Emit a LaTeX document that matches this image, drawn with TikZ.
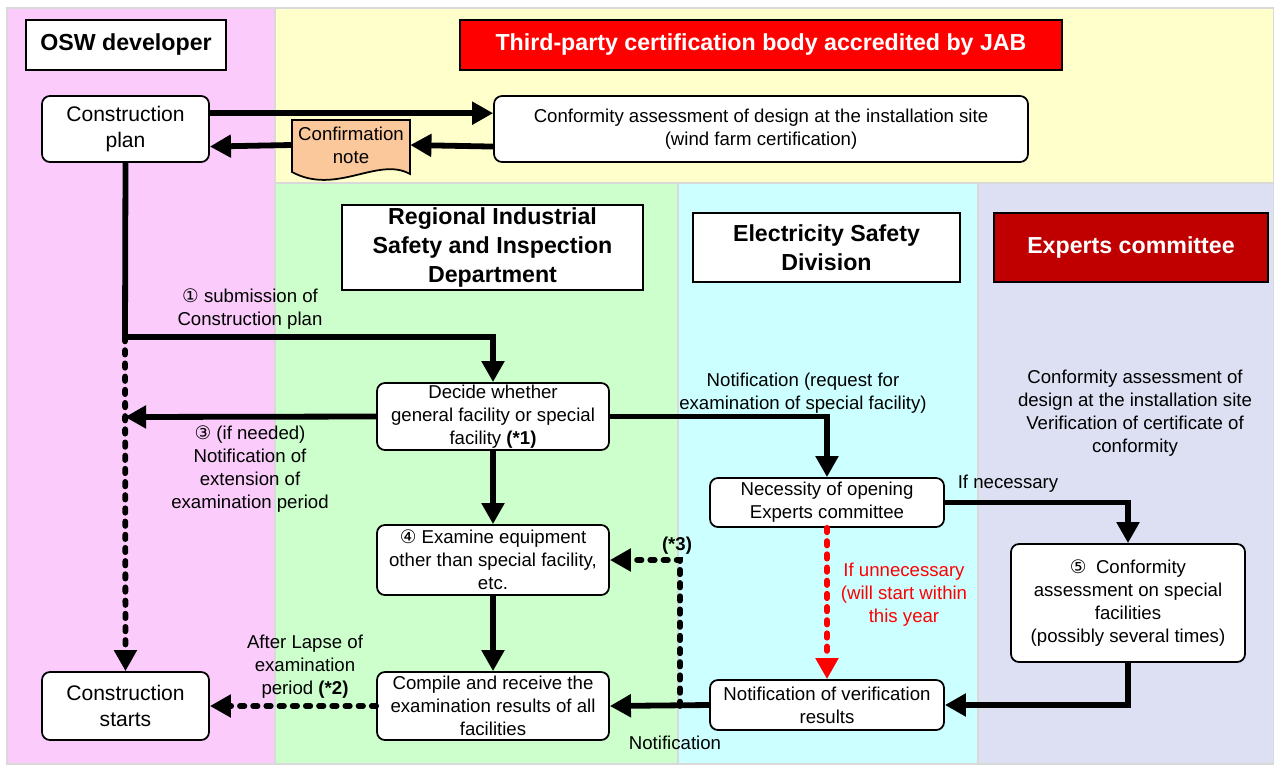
\documentclass[tikz,border=0pt]{standalone}
\usepackage{fontspec}
\setmainfont{Liberation Sans}
\newfontfamily\circfont{DejaVu Sans}
\usetikzlibrary{arrows.meta}

\definecolor{devpink}{RGB}{251,204,251}
\definecolor{jabyellow}{RGB}{255,255,204}
\definecolor{regiongreen}{RGB}{204,255,204}
\definecolor{eleccyan}{RGB}{204,255,255}
\definecolor{expertlav}{RGB}{220,224,242}
\definecolor{notepeach}{RGB}{250,200,155}
\definecolor{jabred}{RGB}{255,0,0}
\definecolor{expertred}{RGB}{192,0,0}

\newcommand{\txtsize}{\fontsize{10.6pt}{13pt}\selectfont}
\newcommand{\bigsize}{\fontsize{12pt}{15.3pt}\selectfont}
\newcommand{\headsize}{\fontsize{13.2pt}{16.4pt}\selectfont\bfseries}

\begin{document}
\begin{tikzpicture}
[x=0.02cm,y=-0.02cm,
  lanedecorate/.style={draw=black!15,line width=0.6pt},%
  headdecorate/.style={shape=rectangle,draw,line width=1.3pt,fill=white,
    align=center,inner sep=0pt,font=\headsize},%
  boxdecorate/.style={shape=rectangle,rounded corners=4.5pt,draw,line width=1pt,
    fill=white,align=center,inner sep=0pt,font=\txtsize},%
  labeldecorate/.style={align=center,inner sep=0pt,font=\txtsize},%
  linedecorate/.style={line width=3.3pt,-{Triangle[length=12pt,width=12.5pt]}},%
  dashdecorate/.style={linedecorate,line cap=round,dash pattern=on 2.5pt off 5pt},%
  plaindecorate/.style={line width=3.3pt}]
\useasboundingbox (0,0) rectangle (1274,764);
%% lanes
\foreach \lanecolor/\xa/\ya/\xb/\yb in {devpink/7/8/275/764, jabyellow/275/8/1274/183,
  regiongreen/275/183/678/764, eleccyan/678/183/978/764, expertlav/978/183/1274/764} {
  \path[lanedecorate,fill=\lanecolor] (\xa,\ya) rectangle (\xb,\yb);
}
%% lane headers
\node (osw) at (126,45) [headdecorate,minimum width=4cm,minimum height=1cm] {OSW developer};
\node (jab) at (761,45) [headdecorate,minimum width=12.04cm,minimum height=1cm,
  fill=jabred,text=white] {Third-party certification body accredited by JAB};
\node (region) at (492.5,247.5) [headdecorate,minimum width=6.02cm,minimum height=1.7cm]
  {Regional Industrial\\Safety and Inspection\\Department};
\node (elec) at (826.5,247.5) [headdecorate,minimum width=5.34cm,minimum height=1.38cm]
  {Electricity Safety\\Division};
\node (experts) at (1131,247.5) [headdecorate,minimum width=5.48cm,minimum height=1.38cm,
  fill=expertred,text=white] {Experts committee};
%% process boxes
\node (plan) at (125.5,129) [boxdecorate,minimum width=3.34cm,minimum height=1.32cm,
  font=\bigsize] {Construction\\plan};
\node (conf) at (761,129) [boxdecorate,minimum width=10.68cm,minimum height=1.32cm]
  {Conformity assessment of design at the installation site\\(wind farm certification)};
\node (decide) at (493,416.5) [boxdecorate,minimum width=4.64cm,minimum height=1.34cm]
  {Decide whether\\general facility or special\\facility \textbf{(*1)}};
\node (examine) at (493,560) [boxdecorate,minimum width=4.64cm,minimum height=1.4cm]
  {{\circfont ④} Examine equipment\\other than special facility,\\etc.};
\node (compile) at (493,706) [boxdecorate,minimum width=4.64cm,minimum height=1.36cm]
  {Compile and receive the\\examination results of all\\facilities};
\node (starts) at (125.5,706) [boxdecorate,minimum width=3.34cm,minimum height=1.36cm,
  font=\bigsize] {Construction\\starts};
\node (necessity) at (827,502.5) [boxdecorate,minimum width=4.68cm,minimum height=0.98cm]
  {Necessity of opening\\Experts committee};
\node (verif) at (827,705) [boxdecorate,minimum width=4.68cm,minimum height=1cm]
  {Notification of verification\\results};
\node (special) at (1128,603) [boxdecorate,minimum width=4.68cm,minimum height=2.36cm]
  {{\circfont ⑤}\enspace Conformity\\assessment on special\\facilities\\(possibly several times)};
%% confirmation note
\draw[line width=1pt,fill=notepeach] (292,120) -- (410,120) -- (410,174)
  .. controls (378,156) and (336,196) .. (292,172) -- cycle;
\node (note) at (351,145) [labeldecorate,minimum width=2.36cm,minimum height=1.04cm] {Confirmation\\note};
%% free ends
\coordinate (split) at (125,337);
\coordinate (extend) at (125,417);
\coordinate (tap) at (680,706);
%% edges
\draw[linedecorate] ([yshift=9pt]plan.east) -- ([yshift=9pt]conf.west);
\draw[linedecorate] ([yshift=-10pt]conf.west) -- (note.east);
\draw[linedecorate] (note.west) -- ([yshift=-10pt]plan.east);
\draw[plaindecorate] (plan.south) -- (split);
\draw[linedecorate] (split) -| (decide.north);
\draw[dashdecorate] (split) -- (starts.north);
\draw[linedecorate] (decide.west) -- (extend);
\draw[linedecorate] (decide.east) -| (necessity.north);
\draw[linedecorate] (decide.south) -- (examine.north);
\draw[linedecorate] (examine.south) -- (compile.north);
\draw[dashdecorate] (compile.west) -- (starts.east);
\draw[linedecorate] (necessity.east) -| (special.north);
\draw[dashdecorate,red] (necessity.south) -- (verif.north);
\draw[linedecorate] (special.south) |- (verif.east);
\draw[linedecorate] (verif.west) -- (compile.east);
\draw[dashdecorate] (tap) |- (examine.east);
%% labels
\node (lsubmit) at (250,309) [labeldecorate] {{\circfont ①} submission of\\Construction plan};
\node (lextend) at (250,469) [labeldecorate]
  {{\circfont ③} (if needed)\\Notification of\\extension of\\examination period};
\node (lrequest) at (803,393) [labeldecorate]
  {Notification (request for\\examination of special facility)};
\node (lnecessary) at (1008,484) [labeldecorate] {If necessary};
\node (lunnecessary) at (904,595) [labeldecorate,text=red]
  {If unnecessary\\(will start within\\this year};
\node (llapse) at (305,667) [labeldecorate] {After Lapse of\\examination\\period \textbf{(*2)}};
\node (lnote3) at (677,546) [labeldecorate,font=\txtsize\bfseries] {(*3)};
\node (lnotify) at (675,743) [labeldecorate] {Notification};
\node (lassess) at (1135,413) [labeldecorate]
  {Conformity assessment of\\design at the installation site\\Verification of certificate of\\conformity};
\end{tikzpicture}
\end{document}
